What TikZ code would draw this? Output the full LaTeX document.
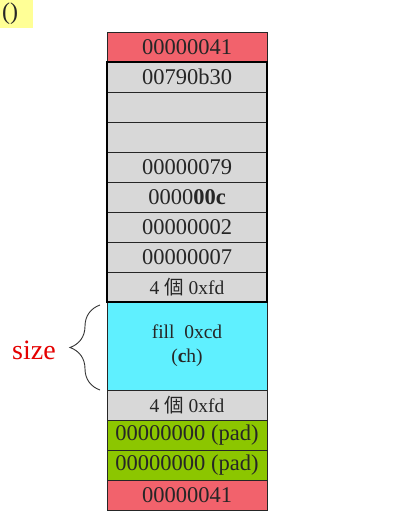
\documentclass[tikz,border=0pt]{standalone}
\usepackage{fontspec}
\setmainfont{Liberation Serif}
\newfontfamily\cjk{Noto Sans CJK TC}
\usetikzlibrary{decorations.pathreplacing}
\definecolor{cellred}{RGB}{242,98,108}
\definecolor{cellgray}{RGB}{216,216,216}
\definecolor{cellcyan}{RGB}{95,240,255}
\definecolor{cellgreen}{RGB}{140,198,0}
\definecolor{hlyellow}{RGB}{255,255,150}
\begin{document}
\begin{tikzpicture}[x=1pt,y=-1pt,
  cell/.style={draw=black!85,line width=0.8pt,minimum width=160pt,minimum height=30pt,inner sep=0pt,
    font=\fontsize{22.5}{24}\selectfont,text=black!85},
  small/.style={font=\fontsize{19.5}{22}\selectfont},
  redc/.style={cell,fill=cellred},
  grayc/.style={cell,fill=cellgray},
  greenc/.style={cell,fill=cellgreen},
]
\useasboundingbox (0,0) rectangle (408,524);
\fill[white] (0,0) rectangle (408,524);
% top-left highlighted fragment
\fill[hlyellow] (0,0) rectangle (33,28);
\node[font=\fontsize{24}{26}\selectfont,text=black!85,inner sep=0pt,anchor=west] (hl) at (2,14) {()};
% cells
\node[redc]   (r1) at (187,47)  {00000041};
\node[grayc]  (g1) at (187,77)  {00790b30};
\node[grayc]  (g2) at (187,107) {};
\node[grayc]  (g3) at (187,137) {};
\node[grayc]  (g4) at (187,167) {00000079};
\node[grayc]  (g5) at (187,197) {0000\textbf{00c}};
\node[grayc]  (g6) at (187,227) {00000002};
\node[grayc]  (g7) at (187,257) {00000007};
\node[grayc,small] (g8) at (187,287) {4 {\cjk 個} 0xfd};
\node[cell,fill=cellcyan,minimum height=88pt,small,align=center] (cy) at (187,346)
  {fill\ \ 0xcd\\[2pt](\textbf{c}h)};
\node[grayc,small] (g9) at (187,405) {4 {\cjk 個} 0xfd};
\node[greenc] (p1) at (187,435) {00000000 (pad)};
\node[greenc] (p2) at (187,465) {00000000 (pad)};
\node[redc]   (r2) at (187,495) {00000041};
% thick frame around the header block
\draw[line width=2pt,black] (g1.north west) rectangle (g8.south east);
% brace
\coordinate (bt) at (100,305);
\coordinate (bb) at (100,390);
\draw[line width=0.9pt,black!80,decorate,decoration={brace,amplitude=30pt}] (bb) -- (bt);
\node[text=red!90!black,font=\fontsize{28}{30}\selectfont] (sz) at (34,350) {size};
\end{tikzpicture}
\end{document}
